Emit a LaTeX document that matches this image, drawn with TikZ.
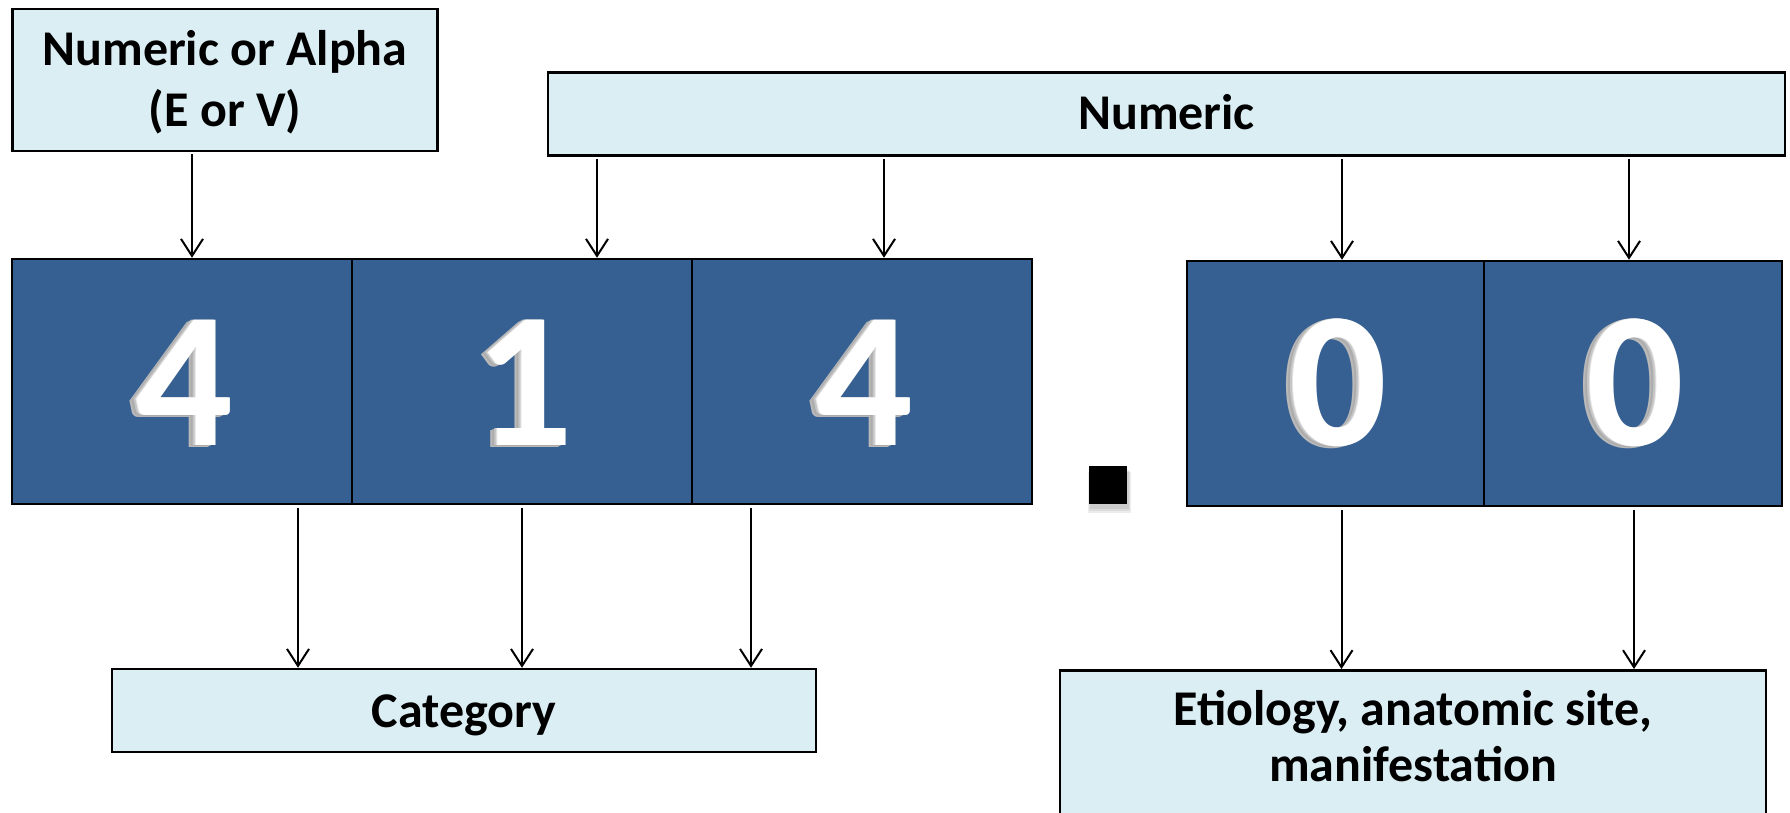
\documentclass[tikz,border=0pt]{standalone}
\usepackage{fontspec}
\setmainfont{Carlito}
\usetikzlibrary{arrows.meta}
\definecolor{paleblue}{HTML}{DBEEF4}
\definecolor{cellblue}{HTML}{376092}

% embossed white digit with a soft grey edge on its lower left
\newcommand{\embdigit}[4]{%
  \foreach \k/\c in {7/45,5/35,3/55,1/80}{%
    \node[digit, text=white!\c!gray, xshift=-\k pt, yshift=-0.3*\k pt] (#1-\k) at (#2,#3) {#4};
  }
  \node[digit, text=white] (#1) at (#2,#3) {#4};
}

\begin{document}
\begin{tikzpicture}[x=1pt, y=-1pt,
  labelbox/.style={draw=black, line width=2.5pt, fill=paleblue, inner sep=0pt},
  cell/.style={draw=black, line width=2.5pt, fill=cellblue, inner sep=0pt, minimum height=245pt},
  txt/.style={font=\fontsize{50}{61}\selectfont\bfseries, anchor=base, inner sep=0pt},
  digit/.style={font=\fontsize{193}{193}\selectfont\bfseries, anchor=base, inner sep=0pt},
  arr/.style={line width=2pt, -{Straight Barb[length=17pt, width=22pt]}}]

\useasboundingbox (0,0) rectangle (1790,812);
\clip (0,0) rectangle (1790,812);

% header boxes
\node[labelbox, minimum width=425pt, minimum height=142pt] (alpha) at (225,80) {};
\node[txt] (alphaA) at (225,65) {Numeric or Alpha};
\node[txt] (alphaB) at (225,126) {(E or V)};

\node[labelbox, minimum width=1237pt, minimum height=83pt] (num) at (1166.5,114) {};
\node[txt] (numT) at (1166.5,129) {Numeric};

% code cells
\node[cell, minimum width=340pt] (c1) at (182,381.5) {};
\node[cell, minimum width=340pt] (c2) at (522,381.5) {};
\node[cell, minimum width=340pt] (c3) at (862,381.5) {};
\node[cell, minimum width=297pt] (c4) at (1335.5,383.5) {};
\node[cell, minimum width=298pt] (c5) at (1633,383.5) {};

\embdigit{d1}{184}{445}{4}
\embdigit{d2}{524}{445}{1}
\embdigit{d3}{864}{445}{4}
\embdigit{d4}{1338}{445}{0}
\embdigit{d5}{1635}{445}{0}

% decimal point with a soft shadow
\foreach \s in {1,2,3}{
  \fill[black, opacity=0.07] (1089-\s+2,466+3+\s) rectangle (1127+\s+1,504+3+2*\s);
}
\node[fill=black, minimum size=38pt, inner sep=0pt] (dot) at (1108,485) {};

% lower boxes
\node[labelbox, minimum width=704pt, minimum height=83pt] (cat) at (464,710.5) {};
\node[txt] (catT) at (464,727) {Category};

\node[labelbox, minimum width=706pt, minimum height=250pt, anchor=north] (etio) at (1413,669) {};
\node[txt] (etioA) at (1413,725) {Etiology, anatomic site,};
\node[txt] (etioB) at (1413,781) {manifestation};

% connectors
\draw[arr, shorten <=2pt] (192,0 |- alpha.south) -- (192,0 |- c1.north);
\draw[arr, shorten <=2pt] (597,0 |- num.south) -- (597,0 |- c2.north);
\draw[arr, shorten <=2pt] (884,0 |- num.south) -- (884,0 |- c3.north);
\draw[arr, shorten <=2pt] (1342,0 |- num.south) -- (1342,0 |- c4.north);
\draw[arr, shorten <=2pt] (1629,0 |- num.south) -- (1629,0 |- c5.north);

\draw[arr, shorten <=3pt] (298,0 |- c1.south) -- (298,0 |- cat.north);
\draw[arr, shorten <=3pt] (522,0 |- c2.south) -- (522,0 |- cat.north);
\draw[arr, shorten <=3pt] (751,0 |- c3.south) -- (751,0 |- cat.north);
\draw[arr, shorten <=3pt] (1341.5,0 |- c4.south) -- (1341.5,0 |- etio.north);
\draw[arr, shorten <=3pt] (1634,0 |- c5.south) -- (1634,0 |- etio.north);
\end{tikzpicture}
\end{document}
